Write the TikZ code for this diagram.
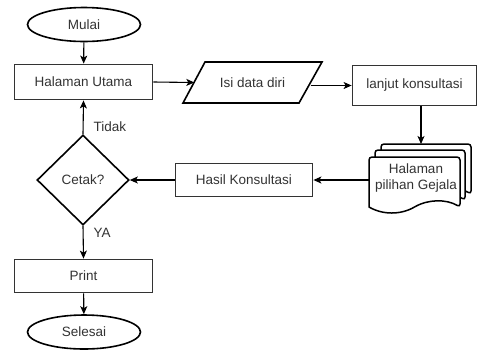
\documentclass[tikz,border=0pt]{standalone}
\usepackage{fontspec}
\setmainfont{Liberation Sans}
\usetikzlibrary{shapes.geometric,arrows.meta}
\tikzset{
  txt/.style={font=\fontsize{13.5}{16}\selectfont, text=black!80},
  procbox/.style={txt, rectangle, draw=black!80, line width=1.8pt, fill=white, inner sep=0pt},
  termin/.style={txt, ellipse, draw=black, line width=1.6pt, fill=white, inner sep=0pt, minimum width=113pt, minimum height=34pt},
  decide/.style={txt, diamond, draw=black, line width=1.6pt, fill=white, inner sep=0pt, minimum width=92pt, minimum height=90pt},
  docline/.style={draw=black, line width=1.5pt, fill=white},
  flow/.style={draw=black, line width=1.1pt, -{Stealth[length=8pt,width=7pt,inset=2pt]}},
  lbl/.style={txt, anchor=west, inner sep=0pt}
}
\newcommand\mdoc[4]{%
  \path[docline] ({#1},{#2+#4}) [rounded corners=3pt] -- (#1,#2) -- ({#1+#3},#2) -- ({#1+#3},{#2+#4}) [sharp corners] .. controls ({#1+0.85*#3},{#2+#4-8}) and ({#1+0.65*#3},{#2+#4-8}) .. ({#1+0.5*#3},{#2+#4}) .. controls ({#1+0.35*#3},{#2+#4+8}) and ({#1+0.15*#3},{#2+#4+8}) .. cycle;}
\begin{document}
\begin{tikzpicture}[x=1pt,y=-1pt]
\useasboundingbox (0,0) rectangle (478,349);
\node[termin] (mulai) at (84,24.5) {Mulai};
\node[procbox, minimum width=138pt, minimum height=35pt] (utama) at (83.5,82) {Halaman Utama};
\path[docline, line width=1.6pt] (205,62) -- (322,62) -- (299,103) -- (183,103) -- cycle;
\node[txt, minimum width=116pt, minimum height=41pt, inner sep=0pt] (isi) at (252.5,82.5) {Isi data diri};
\node[procbox, minimum width=124pt, minimum height=40pt] (lanjut) at (414.5,85.5) {lanjut konsultasi};
% multi-document
\mdoc{381}{144}{90}{50}
\mdoc{375}{150}{90}{50}
\mdoc{369}{157}{91}{50}
\node[txt, align=center, inner sep=0pt] (doc) at (416,178) {Halaman\\pilihan Gejala};
\coordinate (doctop) at (421,144);
\coordinate (docleft) at (369,180);
\node[procbox, minimum width=137pt, minimum height=33pt] (hasil) at (244,180) {Hasil Konsultasi};
\node[decide] (cetak) at (83,180) {Cetak?};
\node[procbox, minimum width=138pt, minimum height=33pt] (print) at (83.5,276) {Print};
\node[termin] (selesai) at (84,332) {Selesai};
% connectors
\draw[flow] (mulai) -- (utama);
\draw[flow] (utama.east) -- (isi.west);
\draw[flow] (isi.east |- lanjut.west) -- (lanjut.west);
\draw[flow] (doctop |- lanjut.south) -- (doctop);
\draw[flow] (docleft) -- (hasil.east);
\draw[flow] (hasil.west) -- (cetak.east);
\draw[flow] (cetak.north) -- (utama.south) node[lbl, pos=0.22, xshift=10pt] (tidak) {Tidak};
\draw[flow] (cetak.south) -- (print.north) node[lbl, pos=0.2, xshift=10pt] (ya) {YA};
\draw[flow] (print) -- (selesai);
\end{tikzpicture}
\end{document}
